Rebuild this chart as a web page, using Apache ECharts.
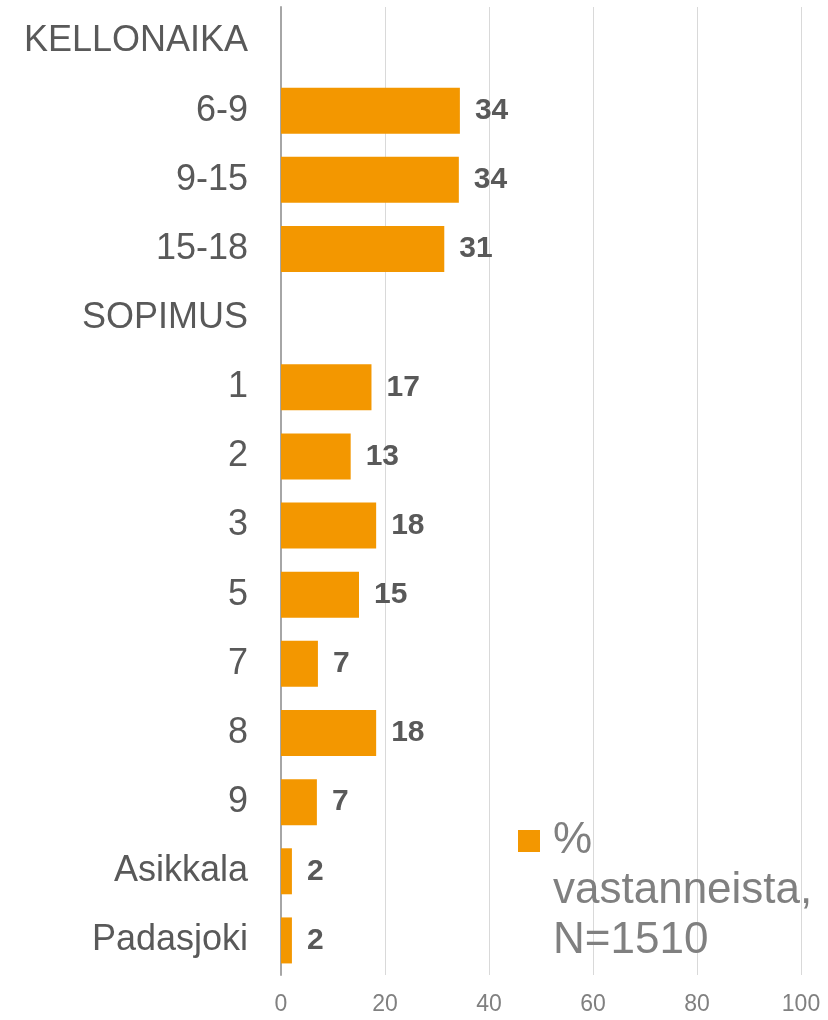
<!DOCTYPE html>
<html>
<head>
<meta charset="utf-8">
<script src="https://cdn.jsdelivr.net/npm/echarts@6/dist/echarts.min.js"></script>
<style>
  html, body { margin: 0; padding: 0; background: #fff; }
  #main { width: 828px; height: 1020px; }
</style>
</head>
<body>
<div id="main"></div>
<script>
  // kategoriat ylhäältä alas
  var categories = ['KELLONAIKA', '6-9', '9-15', '15-18', 'SOPIMUS', '1', '2', '3', '5', '7', '8', '9', 'Asikkala', 'Padasjoki'];
  // % vastanneista (otsikkoriveillä ei palkkia)
  var values = ['-', 34.4, 34.2, 31.4, '-', 17.4, 13.4, 18.3, 15.0, 7.1, 18.3, 6.9, 2.1, 2.1];
  var seriesName = '%\nvastanneista,\nN=1510';
  var xTicks = [0, 20, 40, 60, 80, 100];

  var font = '"Liberation Sans", Arial, sans-serif';
  var myChart = echarts.init(document.getElementById('main'));
  var option = {
    animation: false,
    textStyle: { fontFamily: font },
    grid: { left: 281, right: 27, top: 7, bottom: 45, containLabel: false },
    legend: {
      data: [seriesName],
      left: 513,
      top: 711,
      itemWidth: 22,
      itemHeight: 22,
      itemGap: 0,
      icon: 'rect',
      // tyhjät rivit alkuun, jotta ensimmäinen rivi on merkin kohdalla
      formatter: function (name) { return '\n\n' + name; },
      textStyle: {
        color: '#808080',
        fontSize: 44,
        fontFamily: font,
        lineHeight: 50,
        padding: [0, 0, 0, 8]
      }
    },
    xAxis: {
      type: 'value',
      min: xTicks[0],
      max: xTicks[xTicks.length - 1],
      interval: 20,
      axisLine: { show: false },
      axisTick: { show: false },
      splitLine: { show: true, lineStyle: { color: '#d9d9d9', width: 1 } },
      axisLabel: { color: '#808080', fontSize: 23, margin: 18, fontFamily: font }
    },
    yAxis: {
      type: 'category',
      inverse: true,
      data: categories,
      axisLine: { show: true, lineStyle: { color: '#a6a6a6', width: 2 } },
      axisTick: { show: false },
      axisLabel: { color: '#595959', fontSize: 36, margin: 33, fontFamily: font }
    },
    series: [{
      name: seriesName,
      type: 'bar',
      data: values,
      barWidth: 46,
      itemStyle: { color: '#F39700' },
      label: {
        show: true,
        position: 'right',
        distance: 15,
        color: '#595959',
        fontSize: 30,
        fontWeight: 'bold',
        fontFamily: font,
        formatter: function (p) { return Math.round(p.value); }
      }
    }]
  };
  myChart.setOption(option);
</script>
</body>
</html>
